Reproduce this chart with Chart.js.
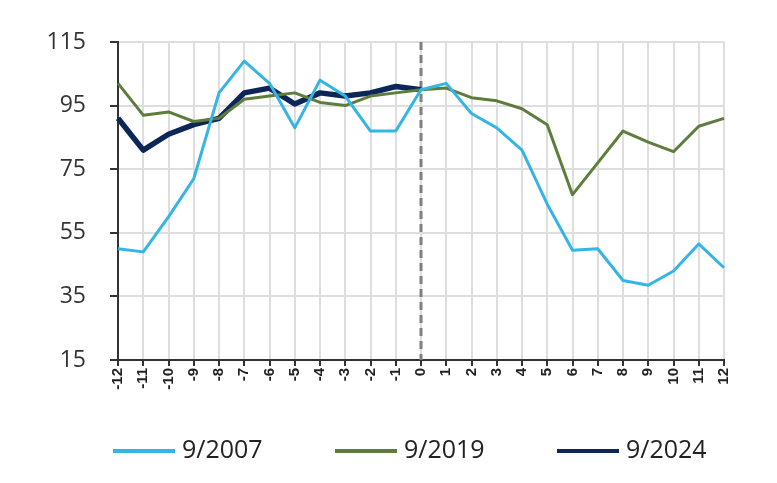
<!DOCTYPE html>
<html>
<head>
<meta charset="utf-8">
<script src="https://cdn.jsdelivr.net/npm/chart.js@4"></script>
<style>
  html, body { margin: 0; padding: 0; background: #fff; }
  #wrap { width: 777px; height: 483px; }
</style>
</head>
<body>
<div id="wrap"><canvas id="chart" width="777" height="483"></canvas></div>
<script>
// months relative to the reference date
const months = ['-12', '-11', '-10', '-9', '-8', '-7', '-6', '-5', '-4', '-3', '-2', '-1', '0',
                '1', '2', '3', '4', '5', '6', '7', '8', '9', '10', '11', '12'];

const s2007 = [50, 49, 60, 72, 99, 109, 102, 88, 103, 98, 87, 87, 100,
               102, 92.5, 88, 81, 64, 49.5, 50, 40, 38.5, 43, 51.5, 44];
const s2019 = [102, 92, 93, 90, 91, 97, 98, 99, 96, 95, 98, 99, 100,
               100.5, 97.5, 96.5, 94, 89, 67, 77, 87, 83.5, 80.5, 88.5, 91];
const s2024 = [91, 81, 86, 89, 91, 99, 100.5, 95.5, 99, 98, 99, 101, 100];

const yTicks = [15, 35, 55, 75, 95, 115];

// dashed marker at month 0
const zeroLine = {
    id: 'zeroLine',
    beforeDatasetsDraw(chart) {
        const { ctx, chartArea, scales } = chart;
        const x = scales.x.getPixelForValue(months.indexOf('0'));
        ctx.save();
        ctx.strokeStyle = '#7f7f7f';
        ctx.lineWidth = 3;
        ctx.setLineDash([8, 5]);
        ctx.beginPath();
        ctx.moveTo(x, chartArea.top);
        ctx.lineTo(x, chartArea.bottom);
        ctx.stroke();
        ctx.restore();
    }
};

// legend row under the axis
const bottomLegend = {
    id: 'bottomLegend',
    afterDraw(chart) {
        const ctx = chart.ctx;
        const startX = 113, step = 222, y = 451;
        ctx.save();
        ctx.font = '25px "Open Sans"';
        ctx.textBaseline = 'middle';
        chart.data.datasets.forEach((ds, i) => {
            const x = startX + i * step;
            ctx.fillStyle = ds.borderColor;
            ctx.fillRect(x, y - 2, 62, 4);
            ctx.fillStyle = '#222';
            ctx.fillText(ds.label, x + 69, y);
        });
        ctx.restore();
    }
};

new Chart(document.getElementById('chart'), {
    type: 'line',
    data: {
        labels: months,
        datasets: [
            { label: '9/2007', data: s2007, borderColor: '#35b4e6', borderWidth: 3 },
            { label: '9/2019', data: s2019, borderColor: '#5e7d3c', borderWidth: 3 },
            { label: '9/2024', data: s2024, borderColor: '#0c2658', borderWidth: 5.5 }
        ]
    },
    options: {
        responsive: false,
        animation: false,
        layout: { padding: { left: 0, right: 53, top: 42, bottom: 83 } },
        elements: {
            point: { radius: 0 },
            line: { tension: 0, fill: false, borderJoinStyle: 'round' }
        },
        plugins: {
            legend: { display: false },
            tooltip: { enabled: false }
        },
        scales: {
            x: {
                offset: false,
                grid: { color: '#dedede', lineWidth: 2, tickColor: '#333', tickLength: 6 },
                border: { color: '#333', width: 2 },
                ticks: {
                    autoSkip: false,
                    minRotation: 90,
                    maxRotation: 90,
                    padding: 2,
                    color: '#222',
                    font: { family: '"Liberation Sans", Arial', size: 15, weight: 'bold' }
                },
                afterFit(scale) {
                    scale.height = 40;
                    scale.paddingLeft = 0;
                    scale.paddingRight = 0;
                }
            },
            y: {
                min: 15,
                max: 115,
                afterBuildTicks(scale) {
                    scale.ticks = yTicks.map(v => ({ value: v }));
                },
                grid: { color: '#dedede', lineWidth: 2, tickColor: '#333', tickLength: 8 },
                border: { color: '#333', width: 2 },
                ticks: {
                    padding: 24,
                    color: '#333',
                    font: { family: '"Open Sans"', size: 23 }
                },
                afterFit(scale) {
                    scale.width = 118;
                    scale.paddingTop = 0;
                    scale.paddingBottom = 0;
                }
            }
        }
    },
    plugins: [zeroLine, bottomLegend]
});
</script>
</body>
</html>
